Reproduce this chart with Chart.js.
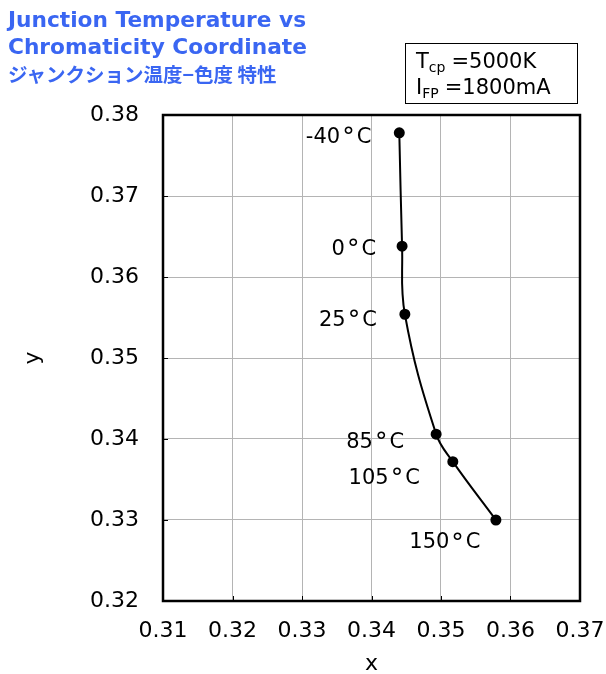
<!DOCTYPE html>
<html>
<head>
<meta charset="utf-8">
<script src="https://cdn.jsdelivr.net/npm/chart.js@4"></script>
<style>
  html, body { margin: 0; padding: 0; background: #fff; }
  #wrap { position: relative; width: 606px; height: 674px; }
  .title { position: absolute; left: 8px; top: 6px; color: #3a66f2; font-family: "DejaVu Sans", Verdana, sans-serif; font-weight: bold; font-size: 21.7px; line-height: 27px; }
  .title .jp { font-family: "Noto Sans CJK JP", sans-serif; font-size: 19.5px; }
  .cond { position: absolute; left: 405px; top: 43px; width: 173px; height: 61px; border: 1px solid #000; font-family: "DejaVu Sans", Verdana, sans-serif; font-size: 21px; line-height: 26px; padding-left: 10px; padding-top: 4px; box-sizing: border-box; }
  .cond sub { font-size: 14px; line-height: 0; vertical-align: -4px; margin-right: 6px; }
</style>
</head>
<body>
<div id="wrap">
  <canvas id="myChart" width="606" height="674"></canvas>
  <div class="title">Junction Temperature vs<br>Chromaticity Coordinate<br><span class="jp">ジャンクション温度−色度 特性</span></div>
  <div class="cond">T<sub>cp</sub>=5000K<br>I<sub>FP</sub>=1800mA</div>
</div>
<script>
// temperature points along the curve
const temps = ['-40°C', '0°C', '25°C', '85°C', '105°C', '150°C']
const xCoord = [0.3440, 0.3444, 0.3448, 0.3493, 0.3517, 0.3579]
const yCoord = [0.3778, 0.3638, 0.3554, 0.3406, 0.3372, 0.3300]
const xTicks = [0.31, 0.32, 0.33, 0.34, 0.35, 0.36, 0.37]
const yTicks = [0.32, 0.33, 0.34, 0.35, 0.36, 0.37, 0.38]

// where each temperature label sits relative to its point (px)
const labelAlign = ['right', 'right', 'right', 'right', 'right', 'center']
const labelShift = [[-28, 5], [-26, 3], [-28, 6], [-32, 8], [-33, 17], [-51, 23]]

const font = '"DejaVu Sans", Verdana, sans-serif'

// draws "NN°C" with a slightly larger, spaced degree ring
function drawTemp(ctx, text, x, y, align) {
    const [num, unit] = text.split('°')
    const small = '21px ' + font
    const big = '25px ' + font
    ctx.font = small
    const wNum = ctx.measureText(num).width
    const wC = ctx.measureText(unit).width
    ctx.font = big
    const wDeg = ctx.measureText('°').width
    const gap = 2
    const total = wNum + gap + wDeg + gap + wC
    let left = align === 'right' ? x - total : x - total / 2
    ctx.textAlign = 'left'
    ctx.font = small
    ctx.fillText(num, left, y)
    left += wNum + gap
    ctx.font = big
    ctx.fillText('°', left, y + 1)
    left += wDeg + gap
    ctx.font = small
    ctx.fillText(unit, left, y)
}

const frame = {
    id: 'frame',
    afterDraw(chart) {
        const { ctx, chartArea: a, scales } = chart
        ctx.save()
        ctx.strokeStyle = '#000'
        ctx.lineWidth = 1
        ctx.beginPath()
        xTicks.forEach(v => {
            const px = Math.round(scales.x.getPixelForValue(v)) + 0.5
            ctx.moveTo(px, a.bottom); ctx.lineTo(px, a.bottom - 5)
        })
        yTicks.forEach(v => {
            const py = Math.round(scales.y.getPixelForValue(v)) + 0.5
            ctx.moveTo(a.left, py); ctx.lineTo(a.left + 5, py)
        })
        ctx.stroke()
        ctx.lineWidth = 2.5
        ctx.strokeRect(a.left, a.top, a.right - a.left, a.bottom - a.top)

        // temperature labels
        const meta = chart.getDatasetMeta(0)
        ctx.fillStyle = '#000'
        ctx.textBaseline = 'middle'
        meta.data.forEach((pt, i) => {
            drawTemp(ctx, temps[i], pt.x + labelShift[i][0], pt.y + labelShift[i][1], labelAlign[i])
        })
        ctx.restore()
    }
}

const data = {
    datasets: [{
        data: xCoord.map((x, i) => ({ x: x, y: yCoord[i] })),
        showLine: true,
        borderColor: '#000',
        backgroundColor: '#000',
        borderWidth: 2,
        pointRadius: 4.5,
        tension: 0.4
    }]
}

const tickFont = { family: font, size: 22 }

const config = {
    type: 'scatter',
    data,
    options: {
        responsive: false,
        animation: false,
        layout: { padding: { top: 115, right: 26, left: 0, bottom: 0 } },
        scales: {
            x: {
                min: 0.31,
                max: 0.37,
                afterBuildTicks: s => { s.ticks = xTicks.map(v => ({ value: v })) },
                afterFit: s => { s.height = 73; s.paddingRight = 0; s.paddingLeft = 0 },
                ticks: { color: '#000', font: tickFont, padding: 17, callback: v => v.toFixed(2) },
                grid: { color: '#b4b4b4', lineWidth: 1, drawTicks: false },
                border: { display: false },
                title: { display: true, text: 'x', color: '#000', font: tickFont, padding: { top: 0, bottom: -3 } }
            },
            y: {
                min: 0.32,
                max: 0.38,
                afterBuildTicks: s => { s.ticks = yTicks.map(v => ({ value: v })) },
                afterFit: s => { s.width = 163; s.paddingTop = 0; s.paddingBottom = 0 },
                ticks: { color: '#000', font: tickFont, padding: 24, callback: v => v.toFixed(2) },
                grid: { color: '#b4b4b4', lineWidth: 1, drawTicks: false },
                border: { display: false },
                title: { display: true, text: 'y', color: '#000', font: tickFont, padding: { top: 20, bottom: 0 } }
            }
        },
        plugins: {
            legend: { display: false },
            tooltip: { enabled: false }
        }
    },
    plugins: [frame]
}

const myChart = new Chart(document.getElementById('myChart'), config)
</script>
</body>
</html>
